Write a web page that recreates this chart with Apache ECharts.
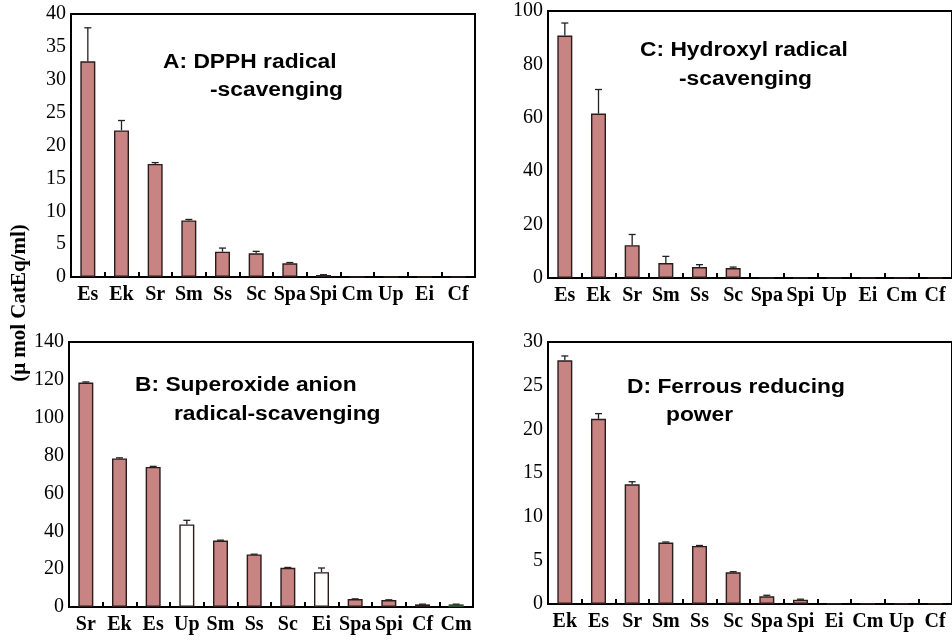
<!DOCTYPE html>
<html>
<head>
<meta charset="utf-8">
<script src="https://cdn.jsdelivr.net/npm/echarts@6/dist/echarts.min.js"></script>
<style>html,body{margin:0;padding:0;background:#fff}#c{width:952px;height:642px}</style>
</head>
<body>
<div id="c"></div>
<script>
// Panel A: DPPH radical-scavenging
const catsA = ['Es','Ek','Sr','Sm','Ss','Sc','Spa','Spi','Cm','Up','Ei','Cf'];
const valsA = [32.8, 22.3, 17.2, 8.6, 3.85, 3.6, 2.08, 0.3, 0, 0, 0, 0];
const errA  = [37.9, 23.8, 17.4, 8.75, 4.4, 3.9, 2.2, 0.35, 0, 0, 0, 0];
// Panel C: Hydroxyl radical-scavenging
const catsC = ['Es','Ek','Sr','Sm','Ss','Sc','Spa','Spi','Up','Ei','Cm','Cf'];
const valsC = [90.8, 61.6, 12.3, 5.6, 4.1, 3.7, 0, 0, 0, 0, 0, 0];
const errC  = [95.5, 70.6, 16.3, 8.1, 5.0, 4.1, 0, 0, 0, 0, 0, 0];
// Panel B: Superoxide anion radical-scavenging
const catsB = ['Sr','Ek','Es','Up','Sm','Ss','Sc','Ei','Spa','Spi','Cf','Cm'];
const valsB = [118.6, 78.5, 74.0, 43.6, 35.1, 27.8, 20.7, 18.4, 4.2, 3.7, 1.4, 1.4];
const errB  = [118.9, 78.8, 74.3, 45.8, 35.3, 27.9, 20.9, 20.6, 4.3, 3.8, 1.5, 1.5];
const whiteB = ['Up','Ei','Cf'];
const greenB = ['Cm'];
// Panel D: Ferrous reducing power
const catsD = ['Ek','Es','Sr','Sm','Ss','Sc','Spa','Spi','Ei','Cm','Up','Cf'];
const valsD = [27.9, 21.2, 13.7, 7.03, 6.65, 3.63, 0.88, 0.5, 0.05, 0.05, 0.05, 0.05];
const errD  = [28.4, 21.8, 14.0, 7.1, 6.7, 3.7, 1.0, 0.55, 0, 0, 0, 0];
// y-axis ranges
const yA = {max: 40, interval: 5};
const yC = {max: 100, interval: 20};
const yB = {max: 140, interval: 20};
const yD = {max: 30, interval: 5};

const RED = '#c88483', EDGE = '#2b1c1c';
const serif = '"Liberation Serif","Times New Roman",serif';
const sans = '"Liberation Sans",Arial,sans-serif';

const grids = [
  {left: 71, top: 14, width: 404, height: 263},
  {left: 548, top: 11, width: 406, height: 267},
  {left: 69, top: 342, width: 404, height: 265},
  {left: 548, top: 342, width: 405, height: 262}
].map(g => Object.assign({show: true, borderColor: '#000', borderWidth: 2, containLabel: false}, g));

const panels = [
  {cats: catsA, vals: valsA, err: errA, y: yA},
  {cats: catsC, vals: valsC, err: errC, y: yC},
  {cats: catsB, vals: valsB, err: errB, y: yB},
  {cats: catsD, vals: valsD, err: errD, y: yD}
];

const xAxis = panels.map((p, i) => ({
  type: 'category', gridIndex: i, data: p.cats, boundaryGap: true,
  axisLine: {lineStyle: {color: '#000', width: 2}},
  axisTick: {show: true, inside: true, length: 5, lineStyle: {color: '#000', width: 2}},
  axisLabel: {color: '#000', fontFamily: serif, fontWeight: 'bold', fontSize: 20, margin: 8, interval: 0}
}));
const yAxis = panels.map((p, i) => ({
  type: 'value', gridIndex: i, min: 0, max: p.y.max, interval: p.y.interval,
  splitLine: {show: false},
  axisLine: {show: true, lineStyle: {color: '#000', width: 2}},
  axisTick: {show: false},
  axisLabel: {color: '#000', fontFamily: serif, fontSize: 20, margin: 5}
}));

function barColor(panelIdx, cat) {
  if (panelIdx === 2 && whiteB.includes(cat)) return '#ffffff';
  if (panelIdx === 2 && greenB.includes(cat)) return '#6aa868';
  return RED;
}

function errRender(params, api) {
  const x = api.value(0), lo = api.value(1), hi = api.value(2);
  const p1 = api.coord([x, lo]);
  const p2 = api.coord([x, hi]);
  const w = 7;
  const st = {stroke: '#222', lineWidth: 1.3};
  return {type: 'group', children: [
    {type: 'line', shape: {x1: p1[0], y1: p1[1], x2: p2[0], y2: p2[1]}, style: st},
    {type: 'line', shape: {x1: p2[0] - w / 2, y1: p2[1], x2: p2[0] + w / 2, y2: p2[1]}, style: st}
  ]};
}

const series = [];
panels.forEach((p, i) => {
  series.push({
    type: 'bar', xAxisIndex: i, yAxisIndex: i, barWidth: 15, silent: true,
    data: p.vals.map((v, k) => ({
      value: v,
      itemStyle: {color: barColor(i, p.cats[k]), borderColor: (barColor(i, p.cats[k]) === '#6aa868') ? '#2d4d2c' : EDGE, borderWidth: 1.4}
    })),
    z: 2
  });
  series.push({
    type: 'custom', xAxisIndex: i, yAxisIndex: i, renderItem: errRender, silent: true, z: 3,
    data: p.vals.map((v, k) => [k, v, p.err[k]]).filter(d => d[2] > d[1])
  });
});

function titleText(txt, x, y) {
  return {type: 'text', x: x, y: y, scaleX: 1.14, z: 10,
    style: {text: txt, font: 'bold 20px ' + sans, fill: '#000', textAlign: 'left', textVerticalAlign: 'middle'}};
}

const graphic = [
  titleText('A: DPPH radical', 163, 62),
  titleText('-scavenging', 210, 90),
  titleText('C: Hydroxyl radical', 640, 50),
  titleText('-scavenging', 679, 79),
  titleText('B: Superoxide anion', 135, 385),
  titleText('radical-scavenging', 174, 414),
  titleText('D: Ferrous reducing', 627, 387),
  titleText('power', 666, 415),
  {type: 'text', x: 20, y: 303, rotation: Math.PI / 2, z: 10,
    style: {text: '(\u03bc mol CatEq/ml)', font: 'bold 21px ' + serif, fill: '#000', textAlign: 'center', textVerticalAlign: 'middle'}}
];

const chart = echarts.init(document.getElementById('c'), null, {renderer: 'canvas'});
chart.setOption({
  animation: false,
  backgroundColor: '#fff',
  grid: grids, xAxis: xAxis, yAxis: yAxis, series: series, graphic: graphic
});
</script>
</body>
</html>
